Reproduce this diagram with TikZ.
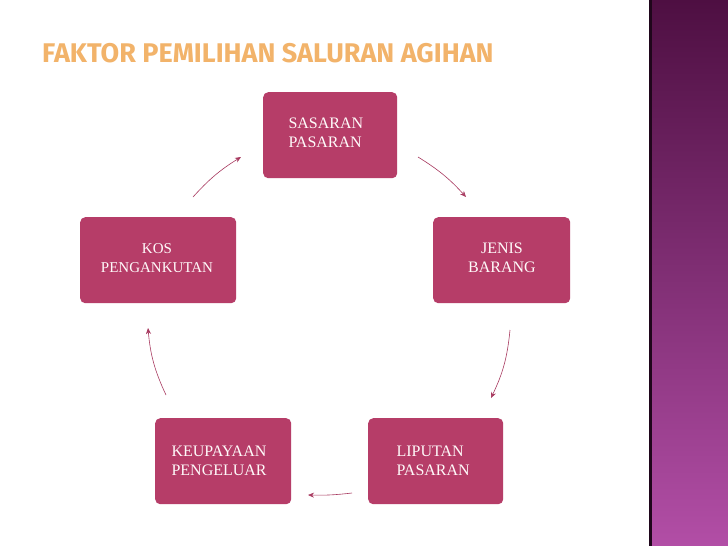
\documentclass[tikz,border=0pt]{standalone}
\usepackage{fontspec}
\setmainfont{Liberation Serif}
\newfontfamily\titlefont{Fira Sans}
\usetikzlibrary{arrows.meta}
\definecolor{boxc}{HTML}{B63D68}
\definecolor{arrc}{HTML}{A83A60}
\definecolor{stripetop}{HTML}{4E0F42}
\definecolor{stripebot}{HTML}{B24EA6}
\definecolor{titlec}{HTML}{F2B36A}
\tikzset{
  box/.style={fill=boxc,rounded corners=5pt,minimum width=#1,minimum height=86pt,inner sep=0pt},
  lbl/.style={text=white!92!pink,font=\fontsize{16}{19.5}\selectfont,align=left},
  cyc/.style={draw=arrc,line width=0.6pt,-{Stealth[length=6pt,width=5pt]}}
}
\begin{document}
\begin{tikzpicture}[x=1pt,y=-1pt]
\useasboundingbox (0,0) rectangle (728,546);
\fill[white] (0,0) rectangle (728,546);
\shade[top color=stripetop,bottom color=stripebot] (649,0) rectangle (728,546);
\fill[black!60!stripetop] (649,0) rectangle (652,546);
\node[anchor=west,inner sep=0pt,text=titlec,font=\titlefont\bfseries\fontsize{27}{30}\selectfont] (title) at (42,53) {FAKTOR PEMILIHAN SALURAN AGIHAN};
\node[box=134pt,anchor=north west] (a) at (263,92) {};
\node[box=137pt,anchor=north west] (b) at (433,217) {};
\node[box=135pt,anchor=north west] (c) at (368,418) {};
\node[box=136pt,anchor=north west] (d) at (155,418) {};
\node[box=156pt,anchor=north west] (e) at (80,217) {};
\node[lbl,anchor=north west] (ta) at (285,114) {SASARAN\\PASARAN};
\node[lbl,align=center,anchor=north] (tb) at (502,239) {JENIS\\BARANG};
\node[lbl,anchor=north west] (tc) at (393,442) {LIPUTAN\\PASARAN};
\node[lbl,anchor=north west] (td) at (168,442) {KEUPAYAAN\\PENGELUAR};
\node[lbl,align=center,anchor=north,font=\fontsize{15}{19.5}\selectfont] (te) at (157,240) {KOS\\PENGANKUTAN};
\coordinate (a1) at (418,157); \coordinate (a2) at (466,197);
\coordinate (b1) at (510,330); \coordinate (b2) at (491,398);
\coordinate (c1) at (352,493); \coordinate (c2) at (308,495);
\coordinate (d1) at (166,395); \coordinate (d2) at (148,328);
\coordinate (e1) at (193,197); \coordinate (e2) at (241,157);
\draw[cyc] (a1) to[bend left=8] (a2);
\draw[cyc] (b1) to[bend left=10] (b2);
\draw[cyc] (c1) to[bend left=4] (c2);
\draw[cyc] (d1) to[bend left=10] (d2);
\draw[cyc] (e1) to[bend left=8] (e2);
\end{tikzpicture}
\end{document}
